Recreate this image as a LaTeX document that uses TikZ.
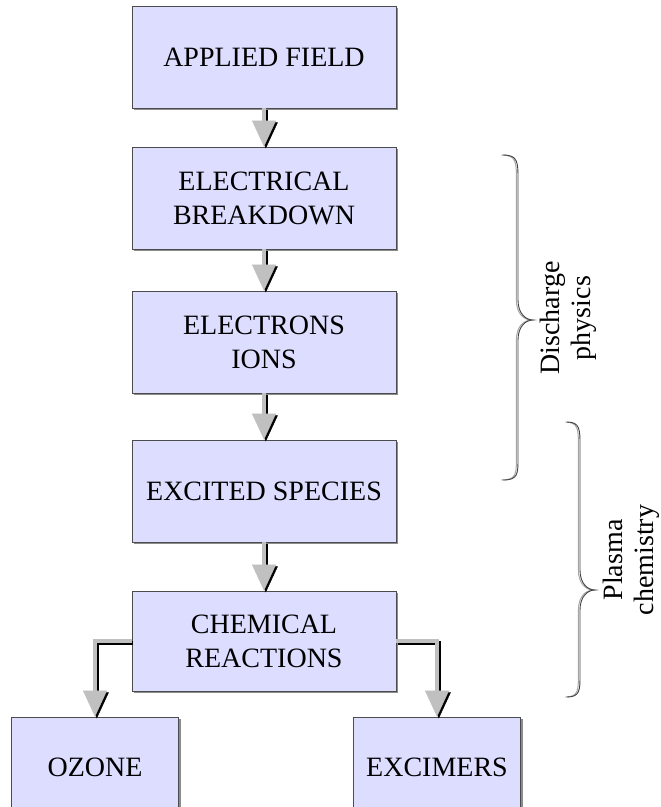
\documentclass[tikz,border=0pt]{standalone}
\usepackage{fontspec}
\setmainfont{Liberation Serif}
\usetikzlibrary{arrows.meta,shadows}
\definecolor{boxfill}{RGB}{221,221,255}
\definecolor{arrgray}{RGB}{192,192,192}
\begin{document}
\begin{tikzpicture}[x=1pt,y=-1pt,
  box/.style={rectangle, fill=boxfill, draw=black!70, line width=0.8pt, inner sep=0pt,
    minimum width=264pt, minimum height=102pt, align=center,
    font=\fontsize{28}{34}\selectfont,
    drop shadow={shadow xshift=2pt, shadow yshift=-2pt, fill=black!45, opacity=1}},
  smallbox/.style={box, minimum width=167pt, minimum height=100pt},
  flow/.style={line width=4.5pt, draw=arrgray,
    -{Triangle[width=24pt,length=26pt,line width=0.4pt,fill=arrgray]}},
  flowshadow/.style={line width=4.5pt, draw=black,
    -{Triangle[width=24pt,length=26pt,line width=0.4pt,fill=black]},
    transform canvas={xshift=1.8pt, yshift=-1.8pt}},
  bracepath/.style={draw=black!75, line width=0.9pt},
  braceshadow/.style={draw=black!35, line width=1pt, transform canvas={xshift=-1.6pt}},
  label/.style={rotate=90, align=center, font=\fontsize{28}{31}\selectfont}
]
\useasboundingbox (0,0) rectangle (661,807);
\clip (0,0) rectangle (661,807);

% boxes
\node[box] (af) at (264,57) {APPLIED FIELD};
\node[box] (eb) at (264,198) {ELECTRICAL\\BREAKDOWN};
\node[box] (ei) at (264,342) {ELECTRONS\\IONS};
\node[box] (es) at (264,491) {EXCITED SPECIES};
\node[box, minimum height=100pt] (cr) at (264,641) {CHEMICAL\\REACTIONS};
\node[smallbox] (oz) at (95,767) {OZONE};
\node[smallbox] (ex) at (437,767) {EXCIMERS};

% connectors: shadows then arrows
\draw[flowshadow] (af.south) -- (eb.north);
\draw[flowshadow] (eb.south) -- (ei.north);
\draw[flowshadow] (ei.south) -- (es.north);
\draw[flowshadow] (es.south) -- (cr.north);
\draw[flowshadow] (cr.west) -| (oz.north);
\draw[flowshadow] (cr.east) -| (ex.north);

\draw[flow] (af.south) -- (eb.north);
\draw[flow] (eb.south) -- (ei.north);
\draw[flow] (ei.south) -- (es.north);
\draw[flow] (es.south) -- (cr.north);
\draw[flow] (cr.west) -| (oz.north);
\draw[flow] (cr.east) -| (ex.north);

% braces
\foreach \st in {braceshadow,bracepath}{
  \draw[\st] (503,155) .. controls (518,155) and (518,162) .. (518,180)
    -- (518,300) .. controls (518,314) and (526,320) .. (533,320)
    .. controls (526,320) and (518,326) .. (518,340)
    -- (518,458) .. controls (518,474) and (518,480) .. (503,480);
  \draw[\st] (567,422) .. controls (580,422) and (580,430) .. (580,445)
    -- (580,570) .. controls (580,584) and (588,590) .. (595,590)
    .. controls (588,590) and (580,596) .. (580,610)
    -- (580,675) .. controls (580,690) and (580,697) .. (567,697);
}

% labels
\node[label] (dp) at (568,318) {Discharge\\physics};
\node[label] (pc) at (631,560) {Plasma\\chemistry};
\end{tikzpicture}
\end{document}
